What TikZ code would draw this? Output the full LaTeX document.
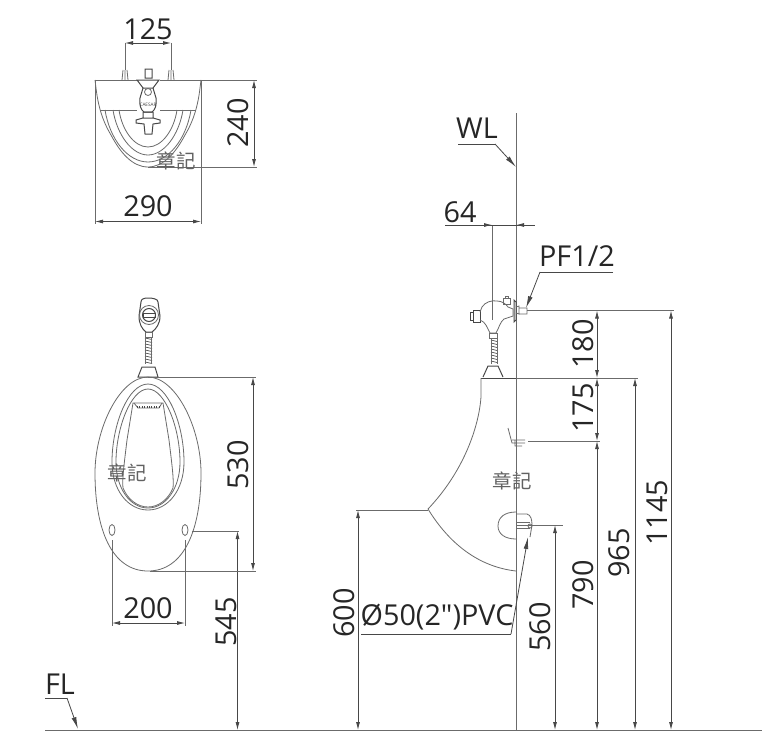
\documentclass[tikz,border=0pt]{standalone}
\usepackage{fontspec}
\newfontfamily\labfont{Open Sans}
\newfontfamily\cjk{Noto Sans CJK TC}
\usetikzlibrary{arrows.meta}
\definecolor{ln}{gray}{0.28}
\definecolor{gl}{gray}{0.42}
\tikzset{
  x=0.75pt,y=-0.75pt,
  dim/.style={draw=ln,line width=0.6pt,{Latex[length=6pt,width=3pt]}-{Latex[length=6pt,width=3pt]}},
  ext/.style={draw=gl,line width=0.55pt},
  lead/.style={draw=ln,line width=0.6pt,-{Latex[length=9pt,width=3.6pt]}},
  obj/.style={draw=gl,line width=0.6pt},
  objb/.style={draw=ln,line width=0.75pt},
  lab/.style={font=\labfont\fontsize{21.6}{23}\selectfont,text=black!85,inner sep=0pt},
  vlab/.style={lab,rotate=90},
  stamp/.style={font=\cjk\fontsize{14.6}{15}\selectfont,text=black!62,inner sep=0pt},
}
\begin{document}
\begin{tikzpicture}
\useasboundingbox (0,0) rectangle (780,749);
\fill[white] (0,0) rectangle (780,749);
% ---------- top view
\draw[obj] (95,80) -- (201,80);
\draw[obj] (95,80) -- (96,88) .. controls (98,105) and (102,120) .. (111,135) .. controls (120,152) and (132,167) .. (148,167)
  .. controls (164,167) and (176,152) .. (185,135) .. controls (194,120) and (198,105) .. (200,88) -- (201,80);
\draw[obj] (100,110) -- (196,110);
\draw[obj] (105,110) .. controls (110,140) and (128,162) .. (148,162) .. controls (168,162) and (186,140) .. (191,110);
\draw[obj] (113,110) .. controls (117,135) and (132,155) .. (148,155) .. controls (164,155) and (179,135) .. (183,110);
\draw[obj] (119,110) .. controls (122,130) and (134,147) .. (148,147) .. controls (162,147) and (174,130) .. (177,110);
\draw[obj] (123,70) -- (122,80) (125,70) -- (125,80) (127,70) -- (128,80);
\draw[obj] (169,70) -- (168,80) (171,70) -- (171,80) (173,70) -- (174,80);
\fill[white] (137,68) rectangle (160,134);
\draw[objb] (145,69) rectangle (152,78) (137,80) -- (159,80) -- (153,88) -- (143,88) -- cycle;
\draw[objb] (143,88) -- (140,98) .. controls (139,105) and (141,110) .. (144,112) -- (152,112) .. controls (155,110) and (157,105) .. (156,98) -- (153,88);
\draw[obj] (148,92) circle (3.5);
\node[font=\labfont\fontsize{3.5}{4}\selectfont,text=black!75,inner sep=0pt] (brand) at (148,105) {CAESAR};
\draw[objb] (143,112) rectangle (153,118) (136,120) -- (143,118) -- (153,118) -- (160,120) -- (160,123) -- (153,124) -- (152,134) -- (145,134) -- (144,124) -- (136,123) -- cycle;
\draw[ext] (125,43) -- (125,70) (171,43) -- (171,70);
\draw[dim] (125,43) -- (171,43);
\node[lab] (t125) at (148,29) {125};
\draw[ext] (95,80) -- (95,224) (201,80) -- (201,224);
\draw[dim] (95,221.5) -- (201,221.5);
\node[lab] (t290) at (148,206) {290};
\draw[ext] (201,80) -- (257,80) (148,167) -- (257,167);
\draw[dim] (254,80) -- (254,167);
\node[vlab] (t240) at (238,123) {240};
\node[stamp] (s1) at (176,161) {章記};
% ---------- front view
\draw[objb] (141,302) .. controls (141,299) and (144,298) .. (148,298) .. controls (153,298) and (158,299) .. (158,302)
  -- (160,316) .. controls (160,324) and (156,329) .. (152,332) -- (146,332) .. controls (142,329) and (139,324) .. (139,316) -- cycle;
\draw[obj] (149,315) circle (9.5);
\draw[objb] (149,315) circle (6.5);
\draw[objb] (143,313) rectangle (155,317);
\draw[obj] (145,332) rectangle (152,337);
\foreach \yy in {338,341,...,362} {\draw[ln,line width=0.5pt] (145,\yy) -- (152,\yy+1.5);}
\draw[obj] (145.5,337) -- (145.5,364) (151.5,337) -- (151.5,364);
\draw[objb] (138,377) -- (142,367) -- (155,367) -- (158,377) -- cycle;
\draw[obj] (148,377) .. controls (176,377) and (201,428) .. (201,473) .. controls (201,530) and (184,571) .. (148,571)
  .. controls (112,571) and (95,530) .. (95,473) .. controls (95,428) and (120,377) .. (148,377);
\draw[obj] (148,384) .. controls (168,384) and (184,425) .. (184,462) .. controls (184,490) and (168,510) .. (148,510)
  .. controls (128,510) and (112,490) .. (112,462) .. controls (112,425) and (128,384) .. (148,384);
\draw[obj] (148,389) .. controls (165,389) and (180,428) .. (180,462) .. controls (180,488) and (166,508) .. (148,508)
  .. controls (130,508) and (116,488) .. (116,462) .. controls (116,428) and (131,389) .. (148,389);
\draw[obj] (133,403) -- (163,403) -- (169,440) .. controls (172,465) and (174,480) .. (173,488) .. controls (168,500) and (158,507) .. (148,507)
  .. controls (138,507) and (128,500) .. (123,488) .. controls (122,480) and (124,465) .. (127,440) -- cycle;
\draw[obj] (134,403) -- (138,408) -- (159,408) -- (162,403);
\draw[ln,densely dotted,line width=0.8pt] (137,407) -- (160,407);
\draw[obj] (112,530) ellipse (3 and 5.5) (185,530) ellipse (3 and 5.5);
\draw[ext] (192,531) -- (239,531);
\draw[dim] (237.5,531) -- (237.5,730);
\node[vlab] (t545) at (226,622) {545};
\draw[ext] (148,377) -- (256,377) (150,571) -- (256,571);
\draw[dim] (253,377) -- (253,571);
\node[vlab] (t530) at (238,465) {530};
\draw[ext] (112,540) -- (112,626) (185,540) -- (185,626);
\draw[dim] (112,623) -- (185,623);
\node[lab] (t200) at (148,608) {200};
\node[stamp] (s2) at (127,473) {章記};
% ---------- side view
\draw[obj] (516,113) -- (516,730);
\draw[objb] (481,378) -- (516,378);
\draw[obj] (481,378) -- (481,397) .. controls (479,425) and (465,470) .. (428,509)
  .. controls (450,545) and (480,567) .. (516,571);
\draw[obj] (516,512) .. controls (505,512) and (498,517) .. (498,526) .. controls (498,534) and (505,539) .. (516,539);
\draw[obj] (516,514) -- (527,514) .. controls (531,515) and (532,520) .. (532,525) -- (530,537);
\draw[obj] (516,522) -- (530,522) (516,525) -- (532,525) (516,528) -- (530,528);
\draw[obj] (530,526) circle (2);
\draw[obj] (508,428) -- (512,443) -- (525,443) (512,440) -- (525,440) (515,440) -- (515,446) -- (522,446);
\draw[objb] (470,312) rectangle (473,320) (473,310) rectangle (480,322);
\draw[obj] (480,312) -- (482,307) .. controls (485,302) and (492,300) .. (497,301) .. controls (502,301) and (506,304) .. (508,307)
  -- (513,309) -- (513,316) -- (504,319) .. controls (500,322) and (499,328) .. (496,333) -- (490,333) .. controls (487,328) and (486,322) .. (480,320);
\draw[obj] (503,304) rectangle (510,298) (505,298) rectangle (508,296);
\draw[objb] (514,300) -- (516,302) -- (516,320) -- (514,322) -- cycle;
\draw[obj] (516,307) -- (519,306) -- (519,314) -- (516,313) (519,308) rectangle (527,314);
\draw[obj] (489,333) rectangle (497,338);
\foreach \yy in {340,343,...,361} {\draw[ln,line width=0.5pt] (491,\yy) -- (497,\yy+1.5);}
\draw[obj] (491,338) -- (491,364) (497,338) -- (497,364);
\draw[objb] (483,377) -- (488,366) -- (498,366) -- (503,377);
% floor
\draw[obj] (45,730) -- (762,730);
% dims side
\draw[ext] (492,225) -- (492,320);
\coordinate (d64a) at (445,225); \coordinate (d64b) at (535,225);
\coordinate (d64l) at (492,225); \coordinate (d64r) at (516,225);
\draw[ln,line width=0.6pt] (d64a) -- (d64b);
\draw[lead,-{Latex[length=6pt,width=3pt]}] (482,225) -- (d64l);
\draw[lead,-{Latex[length=6pt,width=3pt]}] (526,225) -- (d64r);
\node[lab] (t64) at (460,212) {64};
\node[lab] (tWL) at (477,128) {WL};
\coordinate (uWLa) at (458,144); \coordinate (uWLb) at (495,144); \coordinate (tipWL) at (516,167);
\draw[ln,line width=0.6pt] (uWLa) -- (uWLb);
\draw[lead] (uWLb) -- (tipWL);
\node[lab] (tPF) at (577,256) {PF1/2};
\coordinate (uPa) at (613,272); \coordinate (uPb) at (540,272); \coordinate (tipP) at (526,308);
\draw[ln,line width=0.6pt] (uPa) -- (uPb);
\draw[lead] (uPb) -- (tipP);
\node[lab] (tFL) at (60,684) {FL};
\coordinate (uFa) at (45,698); \coordinate (uFb) at (67,698); \coordinate (tipF) at (78,729);
\draw[ln,line width=0.6pt] (uFa) -- (uFb);
\draw[lead] (uFb) -- (tipF);
\draw[ext] (527,310.5) -- (674,310.5) (516,378) -- (638,378) (528,441) -- (600,441) (530,525) -- (563,525);
\draw[ext] (428,510) -- (356,510);
\draw[dim] (597,310.5) -- (597,378);
\draw[dim] (597,378) -- (597,441);
\draw[dim] (597,441) -- (597,730);
\draw[dim] (635,378) -- (635,730);
\draw[dim] (671,310.5) -- (671,730);
\draw[dim] (555,525) -- (555,730);
\draw[dim] (358,510) -- (358,730);
\node[vlab] (t180) at (583,344) {180};
\node[vlab] (t175) at (583,408) {175};
\node[vlab] (t790) at (583,585) {790};
\node[vlab] (t965) at (619,553) {965};
\node[vlab] (t1145) at (657,513) {1145};
\node[vlab] (t560) at (540,627) {560};
\node[vlab] (t600) at (344,613) {600};
\node[lab] (tPVC) at (437,617) {Ø50(2")PVC};
\coordinate (uVa) at (361,634); \coordinate (uVb) at (511,634); \coordinate (tipV) at (528,537);
\draw[ln,line width=0.6pt] (uVa) -- (uVb);
\draw[lead] (uVb) -- (tipV);
\node[stamp] (s3) at (512,481) {章記};
\end{tikzpicture}
\end{document}
